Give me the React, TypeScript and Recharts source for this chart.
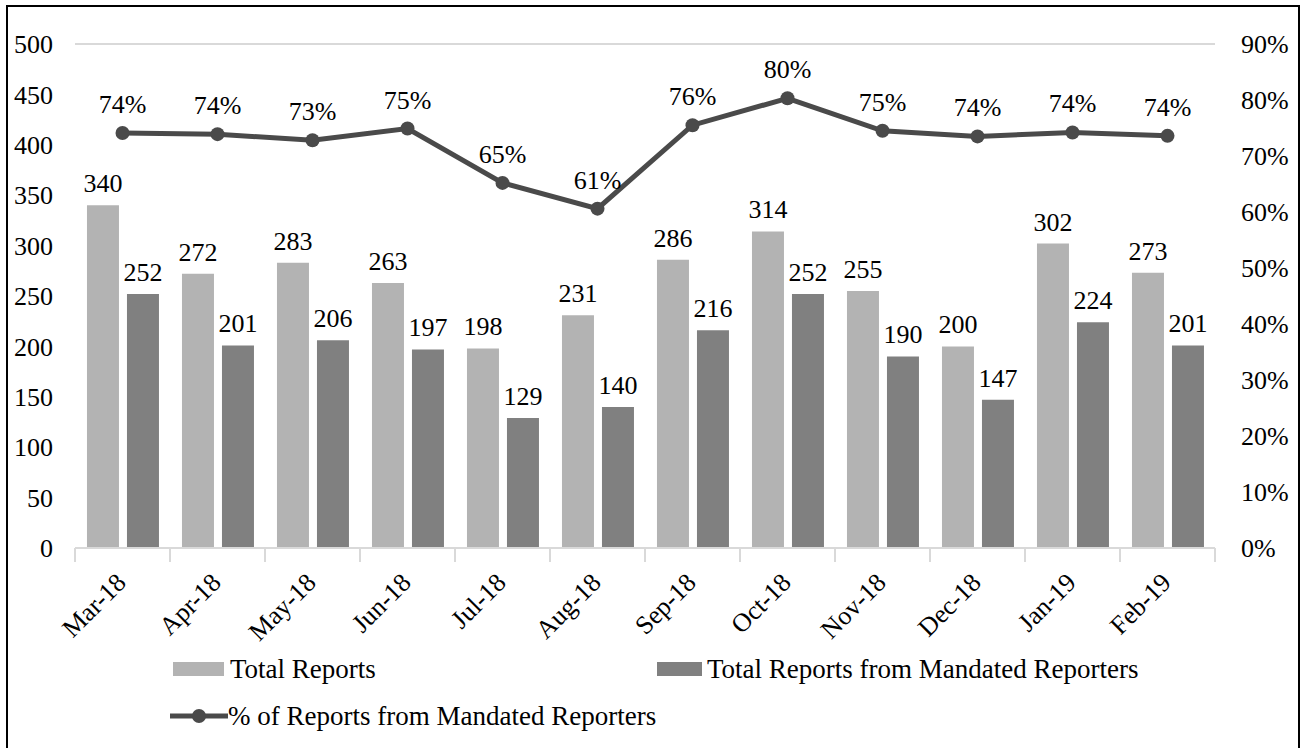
import React from "react";
import {
  ComposedChart,
  Bar,
  Line,
  XAxis,
  YAxis,
  CartesianGrid,
  LabelList,
} from "recharts";

const months = ["Mar-18", "Apr-18", "May-18", "Jun-18", "Jul-18", "Aug-18", "Sep-18", "Oct-18", "Nov-18", "Dec-18", "Jan-19", "Feb-19"];
const totalReports = [340, 272, 283, 263, 198, 231, 286, 314, 255, 200, 302, 273];
const mandatedReports = [252, 201, 206, 197, 129, 140, 216, 252, 190, 147, 224, 201];
const pctMandated = [74.1, 73.9, 72.8, 74.9, 65.2, 60.6, 75.5, 80.3, 74.5, 73.5, 74.2, 73.6];
const leftTicks = [0, 50, 100, 150, 200, 250, 300, 350, 400, 450, 500];
const rightTicks = [0, 10, 20, 30, 40, 50, 60, 70, 80, 90];
const seriesNames = ["Total Reports", "Total Reports from Mandated Reporters", "% of Reports from Mandated Reporters"];

const data = months.map((m, i) => ({
  month: m,
  total: totalReports[i],
  mandated: mandatedReports[i],
  pct: pctMandated[i],
}));

const FONT = '"Liberation Serif", "Times New Roman", serif';
const FS = 26;
const LFS = 27;
const LIGHT = "#b3b3b3";
const DARK = "#808080";
const LINE = "#4a4a4a";

const XTick = (props: any) => {
  const { x, y, payload } = props;
  const half = 47.5;
  const ax = x + 5;
  const ay = y + 28;
  return (
    <g>
      <line x1={x - half} y1={y - 8} x2={x - half} y2={y + 6} stroke="#d9d9d9" strokeWidth={2} />
      {payload.index === months.length - 1 && (
        <line x1={x + half} y1={y - 8} x2={x + half} y2={y + 6} stroke="#d9d9d9" strokeWidth={2} />
      )}
      <text
        x={ax}
        y={ay}
        textAnchor="end"
        transform={`rotate(-45, ${ax}, ${ay})`}
        fontFamily={FONT}
        fontSize={FS}
        fill="#000"
      >
        {payload.value}
      </text>
    </g>
  );
};

export default function App() {
  return (
    <div style={{ position: "absolute", left: 0, top: 0, width: 1305, height: 748, overflow: "hidden", background: "#fff" }}>
      <div
        style={{
          position: "absolute",
          left: 6,
          top: 5,
          width: 1290,
          height: 800,
          border: "2px solid #000",
        }}
      />
      <div style={{ position: "absolute", left: 0, top: 0 }}>
        <ComposedChart
          width={1305}
          height={748}
          data={data}
          margin={{ top: 44, right: 0, bottom: 0, left: 0 }}
          barCategoryGap="12.6%"
          barGap={8}
        >
          <CartesianGrid vertical={false} stroke="#d9d9d9" strokeWidth={2} />
          <XAxis
            dataKey="month"
            height={200}
            tick={<XTick />}
            tickLine={false}
            axisLine={{ stroke: "#d9d9d9", strokeWidth: 2 }}
            interval={0}
          />
          <YAxis
            yAxisId="left"
            width={75}
            domain={[0, 500]}
            ticks={leftTicks}
            axisLine={false}
            tickLine={false}
            tickMargin={16}
            tick={{ fontFamily: FONT, fontSize: FS, fill: "#000" }}
          />
          <YAxis
            yAxisId="right"
            orientation="right"
            width={90}
            domain={[0, 90]}
            ticks={rightTicks}
            axisLine={false}
            tickLine={false}
            tickMargin={20}
            tickFormatter={(v: number) => `${v}%`}
            tick={{ fontFamily: FONT, fontSize: FS, fill: "#000", textAnchor: "start" }}
          />
          <Bar yAxisId="left" dataKey="total" name={seriesNames[0]} fill={LIGHT} isAnimationActive={false}>
            <LabelList dataKey="total" position="top" offset={13} style={{ fontFamily: FONT, fontSize: FS, fill: "#000" }} />
          </Bar>
          <Bar yAxisId="left" dataKey="mandated" name={seriesNames[1]} fill={DARK} isAnimationActive={false}>
            <LabelList dataKey="mandated" position="top" offset={13} style={{ fontFamily: FONT, fontSize: FS, fill: "#000" }} />
          </Bar>
          <Line
            yAxisId="right"
            dataKey="pct"
            name={seriesNames[2]}
            stroke={LINE}
            strokeWidth={5}
            dot={{ r: 7, fill: LINE, stroke: LINE, strokeWidth: 0 }}
            isAnimationActive={false}
          >
            <LabelList
              dataKey="pct"
              position="top"
              offset={20}
              formatter={(v: number) => `${Math.round(v)}%`}
              style={{ fontFamily: FONT, fontSize: FS, fill: "#000" }}
            />
          </Line>
        </ComposedChart>
      </div>
      <div style={{ position: "absolute", left: 0, top: 0, fontFamily: FONT, fontSize: LFS, color: "#000" }}>
        <div style={{ position: "absolute", left: 173, top: 654, height: 30, display: "flex", alignItems: "center", whiteSpace: "nowrap" }}>
          <span style={{ display: "inline-block", width: 51, height: 14, background: LIGHT, marginRight: 6 }} />
          {seriesNames[0]}
        </div>
        <div style={{ position: "absolute", left: 657, top: 654, height: 30, display: "flex", alignItems: "center", whiteSpace: "nowrap" }}>
          <span style={{ display: "inline-block", width: 45, height: 14, background: DARK, marginRight: 5 }} />
          {seriesNames[1]}
        </div>
        <div style={{ position: "absolute", left: 170, top: 701, height: 30, display: "flex", alignItems: "center", whiteSpace: "nowrap" }}>
          <svg width={58} height={20}>
            <line x1={0} y1={10} x2={58} y2={10} stroke={LINE} strokeWidth={5} />
            <circle cx={29} cy={10} r={7} fill={LINE} />
          </svg>
          {seriesNames[2]}
        </div>
      </div>
    </div>
  );
}
